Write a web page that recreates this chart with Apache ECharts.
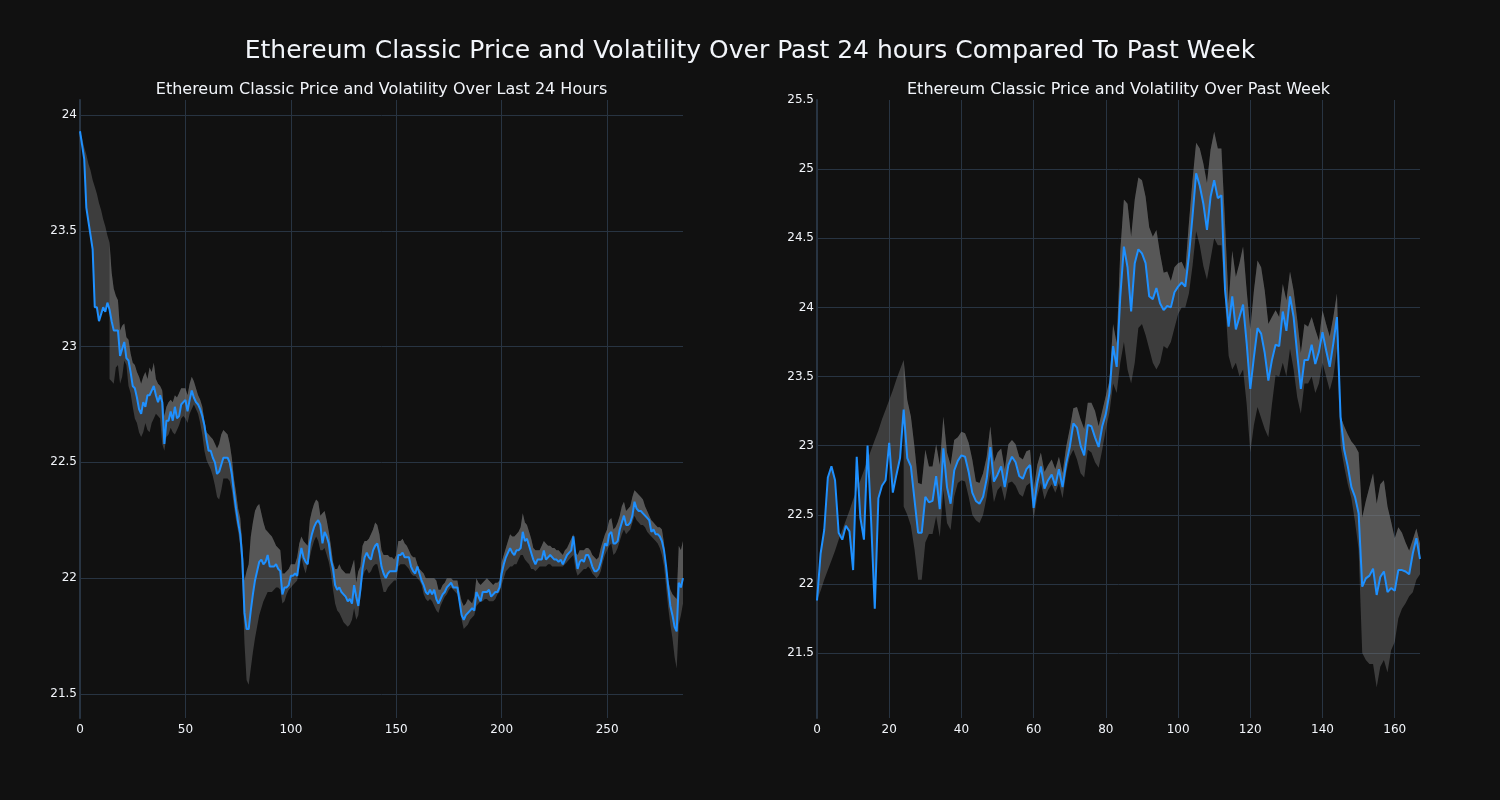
<!DOCTYPE html>
<html><head><meta charset="utf-8">
<script src="https://cdn.jsdelivr.net/npm/echarts@6/dist/echarts.min.js"></script>
<style>html,body{margin:0;padding:0;background:#111111;}#chart{width:1500px;height:800px;}</style>
</head><body><div id="chart"></div>
<script>
const titleMain = 'Ethereum Classic Price and Volatility Over Past 24 hours Compared To Past Week';
const titleLeft = 'Ethereum Classic Price and Volatility Over Last 24 Hours';
const titleRight = 'Ethereum Classic Price and Volatility Over Past Week';

// ---- Last 24 hours (5-minute steps) ----
const leftPrice = [
23.93,23.87,23.81,23.60,23.54,23.48,23.42,23.17,23.17,23.11,
23.14,23.17,23.15,23.19,23.16,23.11,23.07,23.07,23.07,22.96,
22.99,23.02,22.95,22.94,22.89,22.83,22.82,22.78,22.73,22.71,
22.76,22.74,22.79,22.79,22.81,22.83,22.79,22.76,22.79,22.76,
22.58,22.68,22.68,22.72,22.68,22.74,22.69,22.70,22.75,22.76,
22.77,22.72,22.77,22.81,22.78,22.76,22.75,22.73,22.70,22.66,
22.60,22.55,22.55,22.52,22.50,22.45,22.46,22.49,22.52,22.52,
22.52,22.50,22.45,22.37,22.30,22.24,22.19,22.08,21.85,21.78,
21.78,21.86,21.93,21.99,22.03,22.07,22.08,22.06,22.07,22.10,
22.05,22.05,22.05,22.06,22.04,22.03,21.93,21.96,21.96,21.97,
22.01,22.01,22.02,22.01,22.08,22.13,22.09,22.07,22.06,22.15,
22.19,22.22,22.24,22.25,22.23,22.15,22.20,22.18,22.15,22.08,
22.04,21.97,21.95,21.96,21.94,21.93,21.92,21.90,21.91,21.89,
21.97,21.92,21.88,21.95,22.04,22.09,22.11,22.09,22.08,22.12,
22.14,22.15,22.11,22.05,22.02,22.00,22.02,22.03,22.03,22.03,
22.03,22.10,22.10,22.11,22.09,22.09,22.09,22.05,22.03,22.02,
22.05,22.02,21.99,21.97,21.94,21.93,21.95,21.93,21.95,21.91,
21.89,21.91,21.93,21.94,21.96,21.97,21.98,21.96,21.96,21.96,
21.90,21.84,21.82,21.84,21.85,21.86,21.87,21.86,21.94,21.92,
21.90,21.94,21.94,21.94,21.95,21.92,21.93,21.94,21.94,21.96,
22.02,22.06,22.09,22.11,22.13,22.11,22.10,22.12,22.12,22.13,
22.20,22.16,22.17,22.14,22.11,22.08,22.06,22.08,22.08,22.08,
22.12,22.08,22.09,22.10,22.09,22.08,22.08,22.07,22.08,22.06,
22.08,22.10,22.11,22.12,22.18,22.10,22.04,22.07,22.08,22.07,
22.10,22.10,22.08,22.05,22.03,22.03,22.04,22.07,22.11,22.15,
22.14,22.19,22.20,22.15,22.15,22.16,22.21,22.24,22.27,22.23,
22.23,22.24,22.27,22.33,22.30,22.29,22.29,22.28,22.27,22.26,
22.25,22.20,22.21,22.19,22.19,22.18,22.16,22.12,22.05,21.96,
21.88,21.84,21.79,21.77,21.98,21.96,22.00
];
const leftUpper = [
23.93,23.90,23.86,23.83,23.79,23.76,23.72,23.69,23.66,23.62,
23.59,23.55,23.52,23.48,23.45,23.32,23.25,23.22,23.20,23.07,
23.09,23.10,23.04,23.03,22.97,22.93,22.92,22.89,22.87,22.84,
22.87,22.89,22.86,22.91,22.89,22.93,22.86,22.84,22.83,22.81,
22.70,22.74,22.76,22.77,22.76,22.79,22.78,22.80,22.82,22.82,
22.82,22.79,22.84,22.87,22.85,22.82,22.79,22.77,22.74,22.68,
22.63,22.62,22.61,22.60,22.58,22.56,22.58,22.62,22.64,22.63,
22.62,22.58,22.52,22.43,22.37,22.30,22.26,22.14,21.99,22.03,
22.06,22.18,22.24,22.29,22.31,22.32,22.28,22.24,22.21,22.20,
22.19,22.18,22.16,22.14,22.13,22.12,22.02,22.02,22.03,22.04,
22.06,22.06,22.06,22.09,22.15,22.18,22.16,22.15,22.14,22.25,
22.29,22.32,22.34,22.33,22.27,22.28,22.29,22.25,22.20,22.14,
22.07,22.04,22.04,22.06,22.04,22.03,22.02,22.02,22.02,22.05,
22.08,21.98,22.03,22.05,22.14,22.16,22.16,22.17,22.19,22.21,
22.24,22.23,22.19,22.12,22.10,22.10,22.10,22.09,22.09,22.08,
22.10,22.16,22.16,22.17,22.15,22.14,22.12,22.10,22.09,22.09,
22.06,22.04,22.03,22.02,22.00,22.00,22.00,22.00,22.00,21.99,
21.95,21.95,21.97,21.98,22.00,22.00,22.00,21.99,21.99,21.99,
21.94,21.90,21.88,21.89,21.91,21.90,21.89,21.92,22.00,21.98,
21.97,21.98,21.99,22.00,21.99,21.98,21.97,21.98,21.98,21.99,
22.07,22.10,22.13,22.16,22.19,22.18,22.18,22.19,22.20,22.22,
22.28,22.24,22.23,22.20,22.17,22.13,22.12,22.12,22.12,22.14,
22.16,22.15,22.14,22.14,22.13,22.13,22.12,22.12,22.11,22.10,
22.12,22.13,22.15,22.17,22.19,22.11,22.10,22.12,22.12,22.12,
22.13,22.13,22.12,22.10,22.09,22.08,22.09,22.13,22.16,22.19,
22.21,22.25,22.26,22.21,22.22,22.24,22.27,22.31,22.33,22.29,
22.30,22.31,22.35,22.38,22.37,22.36,22.35,22.34,22.31,22.29,
22.27,22.25,22.24,22.23,22.22,22.22,22.21,22.15,22.06,21.99,
21.95,21.93,21.92,21.91,22.14,22.12,22.16
];
const leftLower = [
null,null,null,null,null,null,null,null,null,null,
null,null,null,null,22.86,22.85,22.84,22.91,22.92,22.84,
22.87,22.94,22.92,22.83,22.80,22.74,22.69,22.67,22.63,22.61,
22.63,22.67,22.64,22.63,22.67,22.69,22.71,22.70,22.69,22.58,
22.55,22.61,22.62,22.65,22.63,22.62,22.64,22.66,22.69,22.70,
22.69,22.67,22.71,22.73,22.75,22.73,22.71,22.67,22.62,22.55,
22.51,22.49,22.47,22.44,22.40,22.35,22.34,22.38,22.43,22.43,
22.43,22.42,22.38,22.31,22.25,22.20,22.14,21.98,21.72,21.56,
21.54,21.61,21.68,21.74,21.79,21.84,21.87,21.90,21.92,21.94,
21.94,21.94,21.95,21.96,21.96,21.95,21.89,21.90,21.93,21.95,
21.96,21.97,21.98,21.99,22.04,22.09,22.05,22.02,22.06,22.09,
22.13,22.16,22.18,22.16,22.12,22.12,22.13,22.10,22.07,22.02,
21.95,21.89,21.86,21.85,21.83,21.81,21.80,21.79,21.80,21.82,
21.87,21.82,21.84,21.92,22.00,22.03,22.04,22.02,22.03,22.05,
22.06,22.06,22.02,21.98,21.94,21.94,21.96,21.97,21.98,21.99,
21.99,22.05,22.06,22.06,22.06,22.05,22.04,22.02,22.01,22.01,
22.00,21.99,21.97,21.93,21.91,21.90,21.91,21.90,21.88,21.86,
21.85,21.88,21.90,21.92,21.93,21.95,21.96,21.95,21.94,21.93,
21.89,21.82,21.78,21.79,21.80,21.82,21.83,21.84,21.88,21.89,
21.90,21.90,21.91,21.91,21.90,21.90,21.90,21.91,21.93,21.94,
21.97,22.00,22.03,22.04,22.05,22.05,22.06,22.06,22.08,22.10,
22.10,22.08,22.07,22.06,22.04,22.04,22.03,22.04,22.05,22.05,
22.05,22.05,22.06,22.06,22.05,22.05,22.05,22.05,22.05,22.05,
22.06,22.07,22.08,22.09,22.10,22.04,22.01,22.02,22.03,22.04,
22.04,22.05,22.04,22.02,22.01,22.00,22.01,22.03,22.07,22.10,
22.12,22.14,22.15,22.10,22.11,22.13,22.16,22.19,22.21,22.19,
22.20,22.21,22.24,22.27,22.25,22.24,22.23,22.23,22.22,22.20,
22.19,22.18,22.17,22.16,22.15,22.13,22.10,22.05,21.96,21.87,
21.80,21.74,21.66,21.61,21.80,21.84,21.89
];

// ---- Past week (hourly steps) ----
const rightPrice = [
21.88,22.22,22.39,22.77,22.85,22.75,22.37,22.32,22.42,22.38,
22.10,22.92,22.48,22.32,23.00,22.45,21.82,22.62,22.71,22.75,
23.02,22.66,22.79,22.91,23.26,22.91,22.85,22.61,22.37,22.37,
22.63,22.59,22.60,22.78,22.54,22.98,22.70,22.58,22.82,22.89,
22.93,22.92,22.81,22.66,22.60,22.58,22.63,22.76,22.99,22.74,
22.79,22.85,22.70,22.86,22.92,22.88,22.78,22.76,22.83,22.86,
22.55,22.73,22.85,22.69,22.75,22.79,22.71,22.83,22.70,22.87,
22.99,23.16,23.13,23.00,22.93,23.15,23.14,23.06,22.99,23.14,
23.23,23.38,23.72,23.57,24.08,24.44,24.29,23.97,24.32,24.42,
24.39,24.32,24.08,24.06,24.14,24.03,23.98,24.01,24.00,24.11,
24.15,24.18,24.15,24.37,24.66,24.97,24.88,24.75,24.56,24.80,
24.92,24.79,24.81,24.13,23.86,24.08,23.84,23.93,24.02,23.74,
23.41,23.64,23.85,23.81,23.67,23.47,23.62,23.73,23.72,23.97,
23.83,24.08,23.93,23.66,23.41,23.62,23.62,23.73,23.59,23.68,
23.82,23.69,23.57,23.74,23.93,23.21,22.97,22.85,22.70,22.63,
22.51,21.98,22.04,22.06,22.11,21.92,22.05,22.09,21.94,21.97,
21.95,22.10,22.10,22.09,22.07,22.22,22.33,22.18
];
const rightUpper = [
21.88,21.95,22.03,22.10,22.17,22.24,22.32,22.39,22.46,22.53,
22.61,22.68,22.75,22.82,22.90,22.97,23.04,23.11,23.19,23.26,
23.33,23.40,23.48,23.55,23.62,23.33,23.21,22.99,22.73,22.72,
22.97,22.85,22.85,23.01,22.86,23.21,22.95,22.86,23.04,23.06,
23.10,23.09,23.02,22.90,22.74,22.73,22.80,22.92,23.14,22.88,
22.95,22.98,22.83,23.01,23.04,23.01,22.92,22.90,22.96,22.97,
22.68,22.86,22.95,22.81,22.86,22.90,22.83,22.92,22.80,22.99,
23.12,23.27,23.28,23.19,23.12,23.31,23.31,23.25,23.14,23.25,
23.36,23.47,23.88,23.74,24.41,24.78,24.75,24.51,24.78,24.94,
24.92,24.80,24.58,24.51,24.56,24.39,24.25,24.26,24.19,24.29,
24.32,24.33,24.27,24.61,24.92,25.19,25.15,25.04,24.90,25.14,
25.27,25.15,25.15,24.61,24.03,24.41,24.22,24.32,24.44,24.12,
23.84,24.12,24.34,24.29,24.12,23.88,23.93,23.98,23.93,24.17,
24.05,24.26,24.12,23.91,23.67,23.88,23.86,23.93,23.84,23.76,
23.98,23.88,23.79,23.93,24.10,23.21,23.14,23.08,23.03,23.00,
22.95,22.48,22.60,22.70,22.80,22.58,22.72,22.75,22.56,22.45,
22.33,22.41,22.37,22.30,22.24,22.32,22.40,22.29
];
const rightLower = [
null,null,null,null,null,null,null,null,null,null,
null,null,null,null,null,null,null,null,null,null,
null,null,null,null,22.56,22.50,22.42,22.25,22.03,22.03,
22.30,22.36,22.36,22.49,22.34,22.68,22.44,22.39,22.63,22.73,
22.75,22.74,22.63,22.50,22.46,22.44,22.50,22.63,22.80,22.59,
22.68,22.71,22.60,22.73,22.74,22.71,22.65,22.63,22.71,22.73,
22.47,22.63,22.73,22.61,22.68,22.72,22.66,22.73,22.62,22.80,
22.92,22.97,22.90,22.80,22.77,22.97,22.95,22.88,22.84,22.97,
23.12,23.24,23.45,23.38,23.60,23.75,23.55,23.45,23.60,23.85,
23.88,23.80,23.70,23.60,23.55,23.60,23.72,23.70,23.75,23.85,
23.95,24.00,24.00,24.10,24.30,24.55,24.45,24.30,24.20,24.35,
24.50,24.45,24.45,24.05,23.65,23.55,23.60,23.50,23.55,23.30,
22.95,23.15,23.28,23.20,23.12,23.06,23.30,23.51,23.50,23.60,
23.50,23.70,23.55,23.35,23.23,23.45,23.45,23.50,23.38,23.45,
23.60,23.50,23.40,23.50,23.70,23.00,22.85,22.72,22.62,22.45,
22.25,21.50,21.45,21.42,21.42,21.25,21.40,21.45,21.36,21.52,
21.58,21.75,21.82,21.86,21.91,21.94,22.03,22.07
];

const leftTickStep = 50;
const rightTickStep = 20;
const yTickStep = 0.5;

const BG = '#111111', GRID = '#283442', TXT = '#f2f5fa';
const FILL = 'rgba(128,128,128,0.4)';
const LINE = '#1E90FF';
const FONT = 'DejaVu Sans';

function isStep(v, s){ const q = v / s; return Math.abs(q - Math.round(q)) < 1e-6; }

// filled region between two series, drawn through the axes' own scales
function fillBetween(gi, top, bottom){
  return {
    type:'custom', xAxisIndex:gi, yAxisIndex:gi, silent:true, z:1, animation:false,
    data: top.map((v,i)=>[i, v, bottom[i]]),
    encode:{x:0, y:[1,2]},
    renderItem: function(params, api){
      if (params.dataIndex !== 0) return null;
      const fwd = [], back = [];
      for (let i = 0; i < top.length; i++){
        if (top[i] == null || bottom[i] == null) continue;
        fwd.push(api.coord([i, top[i]]));
        back.push(api.coord([i, bottom[i]]));
      }
      const pts = fwd.concat(back.reverse());
      return {type:'polygon', shape:{points:pts}, style:{fill:FILL, stroke:null}};
    }
  };
}

function seriesFor(gi, price, upper, lower){
  return [
    fillBetween(gi, upper, price),
    fillBetween(gi, upper, lower),
    {type:'line', name:'price'+gi, xAxisIndex:gi, yAxisIndex:gi, symbol:'none', z:3, animation:false,
      data:price.map((v,i)=>[i,v]), lineStyle:{color:LINE, width:2}}
  ];
}

function xAxisFor(gi, maxX, step){
  return {type:'value', gridIndex:gi, min:0, max:maxX, interval:step,
    axisLine:{show:false}, axisTick:{show:false},
    axisLabel:{color:TXT, fontSize:12, fontFamily:FONT, margin:6,
      formatter: v => isStep(v, step) ? String(v) : ''},
    splitLine:{show:true, showMinLine:false, showMaxLine:false, lineStyle:{color:GRID, width:1}}};
}
function yAxisFor(gi, mn, mx, splits){
  return {type:'value', gridIndex:gi, min:mn, max:mx, scale:true, splitNumber:splits,
    axisLine:{show:true, onZero:false, lineStyle:{color:GRID, width:2}}, axisTick:{show:false},
    axisLabel:{color:TXT, fontSize:12, fontFamily:FONT, margin:3,
      formatter: v => isStep(v, yTickStep) ? String(+v.toFixed(2)) : ''},
    splitLine:{show:true, showMinLine:false, showMaxLine:false, lineStyle:{color:GRID, width:1}}};
}

const chart = echarts.init(document.getElementById('chart'), null, {renderer:'canvas'});
chart.setOption({
  backgroundColor: BG,
  animation:false,
  textStyle:{fontFamily:FONT},
  title:[
    {text:titleMain, left:'center', top:39, padding:0, textStyle:{color:TXT, fontSize:25, fontWeight:'normal', fontFamily:FONT}},
    {text:titleLeft, left:381.5, textAlign:'center', top:82, padding:0, textStyle:{color:TXT, fontSize:16, fontWeight:'normal', fontFamily:FONT}},
    {text:titleRight, left:1118.5, textAlign:'center', top:82, padding:0, textStyle:{color:TXT, fontSize:16, fontWeight:'normal', fontFamily:FONT}}
  ],
  grid:[
    {left:80, top:100, width:603, height:618},
    {left:817, top:100, width:603, height:618}
  ],
  xAxis:[ xAxisFor(0, leftPrice.length-1, leftTickStep), xAxisFor(1, rightPrice.length-1, rightTickStep) ],
  yAxis:[ yAxisFor(0, 21.396, 24.065, 5), yAxisFor(1, 21.03, 25.5, 9) ],
  series: seriesFor(0, leftPrice, leftUpper, leftLower).concat(seriesFor(1, rightPrice, rightUpper, rightLower))
});
</script></body></html>
